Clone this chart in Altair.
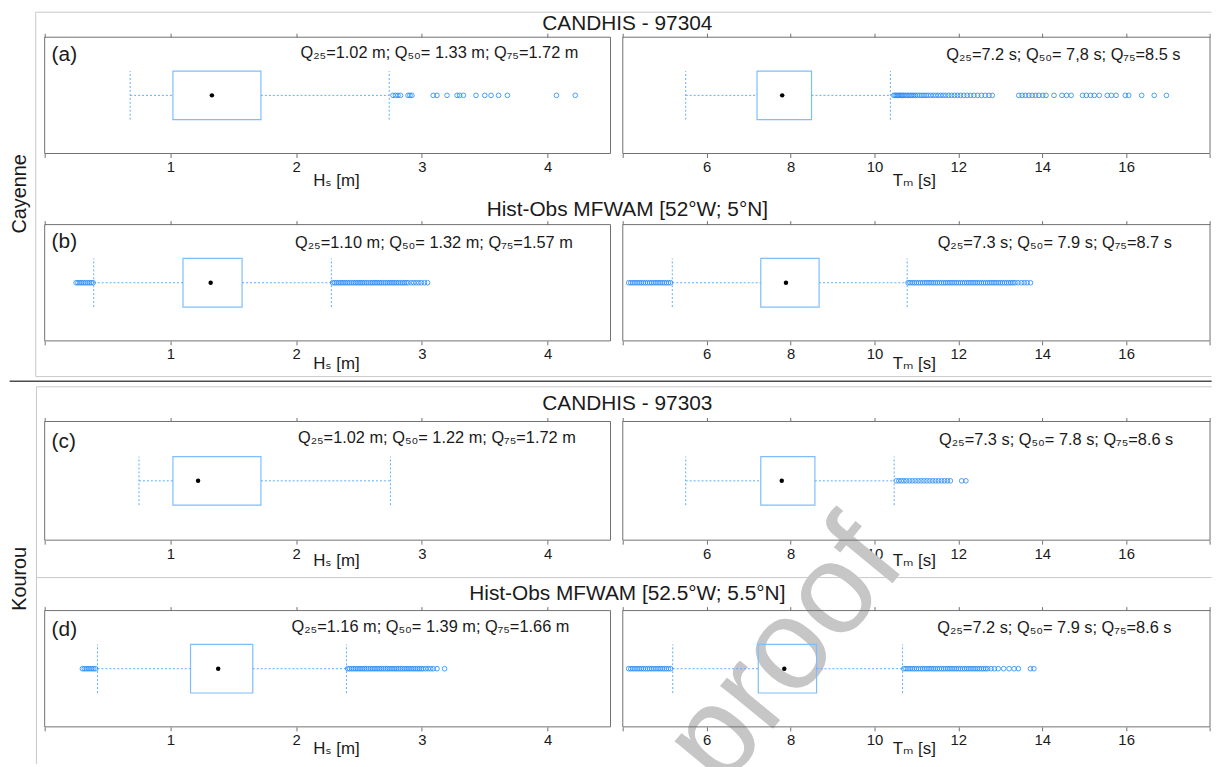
import altair as alt
import pandas as pd

FONT = "Liberation Sans, Arial, DejaVu Sans, sans-serif"

# ---------------- data ----------------
PANELS = ["aL", "aR", "bL", "bR", "cL", "cR", "dL", "dR"]
WHISK_LO = [0.68, 5.50, 0.39, 5.18, 0.75, 5.50, 0.42, 5.19]
Q25 = [1.02, 7.20, 1.10, 7.29, 1.02, 7.29, 1.16, 7.23]
Q50 = [1.33, 7.80, 1.32, 7.89, 1.22, 7.79, 1.38, 7.85]
Q75 = [1.72, 8.50, 1.57, 8.68, 1.72, 8.58, 1.655, 8.62]
WHISK_HI = [2.74, 10.38, 2.28, 10.78, 2.75, 10.47, 2.40, 10.67]

OUT_aL = [2.77, 2.79, 2.81, 2.83, 2.89, 2.905, 2.92, 3.09, 3.12, 3.20, 3.28, 3.30,
          3.33, 3.43, 3.50, 3.55, 3.61, 3.68, 4.07, 4.22]
OUT_aR = [10.46, 10.49, 10.52, 10.55, 10.58, 10.61, 10.64, 10.67, 10.70, 10.74, 10.78,
          10.82, 10.86, 10.90, 10.94, 10.98, 11.03, 11.08, 11.13, 11.18, 11.23, 11.28,
          11.34, 11.40, 11.46, 11.52, 11.58, 11.64, 11.70, 11.77, 11.84, 11.91, 11.98,
          12.05, 12.13, 12.21, 12.29, 12.37, 12.46, 12.55, 12.64, 12.73, 12.81,
          13.44, 13.52, 13.60, 13.68, 13.76, 13.84, 13.92, 14.01, 14.09, 14.28, 14.47,
          14.58, 14.69, 14.96, 15.05, 15.15, 15.24, 15.36, 15.55, 15.65, 15.76, 15.98,
          16.06, 16.37, 16.67, 16.96]
OUT_bL = [0.25, 0.265, 0.28, 0.295, 0.31, 0.325, 0.34, 0.355, 0.37, 0.385,
          2.29, 2.305, 2.32, 2.335, 2.35, 2.365, 2.38, 2.395, 2.41, 2.425, 2.44, 2.455,
          2.47, 2.485, 2.50, 2.515, 2.53, 2.545, 2.56, 2.575, 2.59, 2.605, 2.62, 2.635,
          2.65, 2.665, 2.68, 2.695, 2.71, 2.725, 2.74, 2.755, 2.77, 2.785, 2.80, 2.815,
          2.83, 2.845, 2.86, 2.875, 2.89, 2.915, 2.935, 2.955, 2.975, 2.995, 3.02, 3.045]
OUT_bR = [4.14, 4.19, 4.24, 4.29, 4.34, 4.39, 4.44, 4.49, 4.54, 4.59, 4.64, 4.69, 4.74,
          4.79, 4.84, 4.89, 4.94, 4.99, 5.04, 5.09, 5.14,
          10.80, 10.85, 10.90, 10.95, 11.00, 11.05, 11.10, 11.15, 11.20, 11.25, 11.30,
          11.35, 11.40, 11.45, 11.50, 11.55, 11.60, 11.65, 11.70, 11.75, 11.80, 11.85,
          11.90, 11.95, 12.00, 12.05, 12.10, 12.15, 12.20, 12.25, 12.30, 12.35, 12.40,
          12.45, 12.50, 12.55, 12.60, 12.65, 12.70, 12.75, 12.80, 12.85, 12.90, 12.95,
          13.00, 13.05, 13.10, 13.15, 13.20, 13.25, 13.30, 13.35, 13.42, 13.50, 13.57,
          13.64, 13.72]
OUT_cL = []
OUT_cR = [10.52, 10.58, 10.64, 10.70, 10.76, 10.83, 10.90, 10.97, 11.04, 11.11, 11.18,
          11.25, 11.32, 11.39, 11.46, 11.53, 11.60, 11.67, 11.74, 11.81, 12.08, 12.18]
OUT_dL = [0.30, 0.315, 0.33, 0.345, 0.36, 0.375, 0.39, 0.405,
          2.41, 2.425, 2.44, 2.455, 2.47, 2.485, 2.50, 2.515, 2.53, 2.545, 2.56, 2.575,
          2.59, 2.605, 2.62, 2.635, 2.65, 2.665, 2.68, 2.695, 2.71, 2.725, 2.74, 2.755,
          2.77, 2.785, 2.80, 2.815, 2.83, 2.845, 2.86, 2.875, 2.89, 2.905, 2.92, 2.935,
          2.95, 2.965, 2.98, 2.995, 3.01, 3.03, 3.05, 3.07, 3.09, 3.12, 3.18]
OUT_dR = [4.14, 4.19, 4.24, 4.29, 4.34, 4.39, 4.44, 4.49, 4.54, 4.59, 4.64, 4.69, 4.74,
          4.79, 4.84, 4.89, 4.94, 4.99, 5.04, 5.09, 5.14,
          10.70, 10.75, 10.80, 10.85, 10.90, 10.95, 11.00, 11.05, 11.10, 11.15, 11.20,
          11.25, 11.30, 11.35, 11.40, 11.45, 11.50, 11.55, 11.60, 11.65, 11.70, 11.75,
          11.80, 11.85, 11.90, 11.95, 12.00, 12.05, 12.10, 12.15, 12.20, 12.25, 12.30,
          12.35, 12.40, 12.45, 12.50, 12.55, 12.60, 12.65, 12.70, 12.78, 12.86, 12.95,
          13.08, 13.21, 13.33, 13.43, 13.72, 13.80]
OUTLIERS = [OUT_aL, OUT_aR, OUT_bL, OUT_bR, OUT_cL, OUT_cR, OUT_dL, OUT_dR]

ANNOT = [
    "Q₂₅=1.02 m; Q₅₀= 1.33 m; Q₇₅=1.72 m",
    "Q₂₅=7.2 s; Q₅₀= 7,8 s; Q₇₅=8.5 s",
    "Q₂₅=1.10 m; Q₅₀= 1.32 m; Q₇₅=1.57 m",
    "Q₂₅=7.3 s; Q₅₀= 7.9 s; Q₇₅=8.7 s",
    "Q₂₅=1.02 m; Q₅₀= 1.22 m; Q₇₅=1.72 m",
    "Q₂₅=7.3 s; Q₅₀= 7.8 s; Q₇₅=8.6 s",
    "Q₂₅=1.16 m; Q₅₀= 1.39 m; Q₇₅=1.66 m",
    "Q₂₅=7.2 s; Q₅₀= 7.9 s; Q₇₅=8.6 s",
]
TITLES = ["CANDHIS - 97304", "Hist-Obs MFWAM [52°W; 5°N]",
          "CANDHIS - 97303", "Hist-Obs MFWAM [52.5°W; 5.5°N]"]
ROW_LABELS = ["Cayenne", "Kourou"]
LETTERS = ["(a)", "(b)", "(c)", "(d)"]
HS_TICKS = [0, 1, 2, 3, 4]
TM_TICKS = [4, 6, 8, 10, 12, 14, 16, 18]
AXIS_TITLES = {"L": "Hₛ [m]", "R": "Tₘ [s]"}
WATERMARK = "proof"

# ---------------- layout / style ----------------
W, H = 1175.4, 695.6
XRANGE = {"L": [0, 570.7], "R": [583.1, 1175.4]}
XDOM = {"L": [0, 4.5], "R": [4, 18]}
ROWS = {"a": (0.0, 117.3), "b": (189.0, 306.3), "c": (387.6, 507.3), "d": (578.3, 695.6)}
ROW_KEYS = ["a", "b", "c", "d"]
TITLE_Y = {"a": -13.7, "b": 174.6, "c": 369.6, "d": 561.3}
LETTER_Y = {"a": 18.0, "b": 206.3, "c": 408.0, "d": 598.0}
AXT_Y = {"a": 27.0, "b": 22.5, "c": 20.5, "d": 22.0}
AXT_X = {"L": 293.8, "R": 876.6}
ANN_POS = {"aL": (398.2, 16.3), "aR": (1027.5, 18.0), "bL": (392.6, 208.0),
           "bR": (1018.8, 208.0), "cL": (395.6, 404.6), "cR": (1020.2, 406.3),
           "dL": (389.1, 594.6), "dR": (1018.4, 596.3)}

FRAME = "#707070"
BOXC = "#80bdfb"
WHISK = "#5eacfa"
OUTC = "#2b8cf5"
LIGHT = "#c8c8c8"
DIVIDER = "#4d4d4d"
TXT = "#1a1a1a"

one = pd.DataFrame({"k": [0]})


def panel(i):
    key = PANELS[i]
    r, side = key[0], key[1]
    top, bot = ROWS[r]
    xs = alt.Scale(domain=XDOM[side], range=XRANGE[side], nice=False, zero=False)
    ys = alt.Scale(domain=[0, 1], range=[bot, top], nice=False, zero=False)
    hh = 24.5 / (bot - top)
    stat = pd.DataFrame({"lo": [WHISK_LO[i]], "q25": [Q25[i]], "q50": [Q50[i]],
                         "q75": [Q75[i]], "hi": [WHISK_HI[i]]})
    base = alt.Chart(stat)
    ticks = HS_TICKS if side == "L" else TM_TICKS
    lab_expr = ("datum.value == 0 ? '' : datum.label" if side == "L"
                else "(datum.value == 4 || datum.value == 18) ? '' : datum.label")
    yc = alt.Y(datum=0.5, scale=ys, axis=None)

    frame = base.mark_rect(fill="white", fillOpacity=0, stroke=FRAME, strokeWidth=1).encode(
        x=alt.X(datum=XDOM[side][0], scale=xs, axis=None),
        x2=alt.X2(datum=XDOM[side][1]),
        y=alt.Y(datum=0, scale=ys, axis=None), y2=alt.Y2(datum=1))
    box = base.mark_rect(fill="white", fillOpacity=0, stroke=BOXC, strokeWidth=1.2).encode(
        x=alt.X("q25:Q", scale=xs, axis=None), x2="q75:Q",
        y=alt.Y(datum=0.5 - hh, scale=ys, axis=None), y2=alt.Y2(datum=0.5 + hh))
    wlo = base.mark_rule(color=WHISK, strokeDash=[2, 2], strokeWidth=1).encode(
        x=alt.X("lo:Q", scale=xs, axis=None), x2="q25:Q", y=yc)
    whi = base.mark_rule(color=WHISK, strokeDash=[2, 2], strokeWidth=1).encode(
        x=alt.X("q75:Q", scale=xs, axis=None), x2="hi:Q", y=yc)
    clo = base.mark_rule(color=WHISK, strokeDash=[2, 2], strokeWidth=1).encode(
        x=alt.X("lo:Q", scale=xs, axis=None),
        y=alt.Y(datum=0.5 - hh, scale=ys, axis=None), y2=alt.Y2(datum=0.5 + hh))
    chi = base.mark_rule(color=WHISK, strokeDash=[2, 2], strokeWidth=1).encode(
        x=alt.X("hi:Q", scale=xs, axis=None),
        y=alt.Y(datum=0.5 - hh, scale=ys, axis=None), y2=alt.Y2(datum=0.5 + hh))
    layers = [frame, box, wlo, whi, clo, chi]
    if OUTLIERS[i]:
        out = alt.Chart(pd.DataFrame({"v": OUTLIERS[i]})).mark_point(
            shape="circle", filled=False, color=OUTC, size=22, strokeWidth=1, opacity=0.85
        ).encode(x=alt.X("v:Q", scale=xs, axis=None), y=yc)
        layers.append(out)
    dot = base.mark_circle(color="black", size=20, opacity=1).encode(
        x=alt.X("q50:Q", scale=xs, axis=None), y=yc)
    layers.append(dot)
    ax, ay = ANN_POS[key]
    ann = base.mark_text(font=FONT, fontSize=16.5, color=TXT, align="center",
                         baseline="middle").encode(
        x=alt.value(ax), y=alt.value(ay), text=alt.value(ANNOT[i]))
    layers.append(ann)
    if side == "L":
        letter = base.mark_text(font=FONT, fontSize=21, color=TXT, align="left",
                                baseline="middle").encode(
            x=alt.value(7.0), y=alt.value(LETTER_Y[r]),
            text=alt.value(LETTERS[ROW_KEYS.index(r)]))
        layers.append(letter)
    main = alt.layer(*layers)

    bottom_axis = alt.Axis(orient="bottom", offset=-(H - bot), values=ticks,
                           labelExpr=lab_expr, tickSize=4, labelPadding=2,
                           labelFlush=False, labelOverlap=False,
                           title=AXIS_TITLES[side], titleX=AXT_X[side], titleY=AXT_Y[r],
                           titleBaseline="middle", titleAlign="center",
                           grid=False, domain=False)
    botax = base.mark_point(opacity=0).encode(
        x=alt.X(datum=XDOM[side][0], scale=xs, axis=bottom_axis), y=yc)
    topax = base.mark_point(opacity=0).encode(
        x=alt.X(datum=XDOM[side][0], scale=xs,
                axis=alt.Axis(orient="top", offset=-top, values=ticks, labels=False,
                              tickSize=4, domain=False, grid=False, title=None)),
        y=yc)
    return alt.layer(main, botax, topax).resolve_scale(x="independent")


def hline(x1, x2, y, color, sw=1.0):
    return alt.Chart(one).mark_rule(color=color, strokeWidth=sw).encode(
        x=alt.value(x1), x2=alt.value(x2), y=alt.value(y))


def vline(x, y1, y2, color, sw=1.0):
    return alt.Chart(one).mark_rule(color=color, strokeWidth=sw).encode(
        x=alt.value(x), y=alt.value(y1), y2=alt.value(y2))


decor = [
    hline(-9, 1177, -25.2, LIGHT),
    vline(-9, -25.2, 342.3, LIGHT),
    hline(-9, 1177, 342.3, LIGHT),
    hline(-35.3, 1177, 347.0, DIVIDER, 1.5),
    hline(-8.3, 1177, 352.6, LIGHT),
    vline(-8.3, 352.6, 733.0, LIGHT),
    hline(-8.3, 1177, 545.0, LIGHT),
]

titles = [
    alt.Chart(one).mark_text(font=FONT, fontSize=21, color=TXT, align="center",
                             baseline="middle").encode(
        x=alt.value(587.7), y=alt.value(TITLE_Y[r]), text=alt.value(TITLES[j]))
    for j, r in enumerate(ROW_KEYS)
]
row_labels = [
    alt.Chart(one).mark_text(font=FONT, fontSize=20, color=TXT, align="center",
                             baseline="middle", angle=270).encode(
        x=alt.value(-25.3), y=alt.value(yy), text=alt.value(ROW_LABELS[j]))
    for j, yy in enumerate([158.0, 546.3])
]
watermark = alt.Chart(one).mark_text(font=FONT, fontSize=130, color="#c6c6c6",
                                     align="center", baseline="middle",
                                     angle=309.4).encode(
    x=alt.value(746.7), y=alt.value(621.3), text=alt.value(WATERMARK))

panels = [panel(i) for i in range(len(PANELS))]

chart = alt.layer(watermark, *decor, *titles, *row_labels, *panels).resolve_scale(
    x="independent", y="independent"
).properties(
    width=W, height=H, padding={"left": 0, "top": 0, "right": 0, "bottom": 0}
).configure_view(strokeWidth=0).configure_axis(
    labelFont=FONT, labelFontSize=15, labelColor=TXT, titleFont=FONT,
    titleFontSize=17, titleFontWeight="normal", titleColor=TXT,
    tickColor=FRAME, tickWidth=1
)

chart.save("out.html", embed_options={"renderer": "svg", "actions": False})
